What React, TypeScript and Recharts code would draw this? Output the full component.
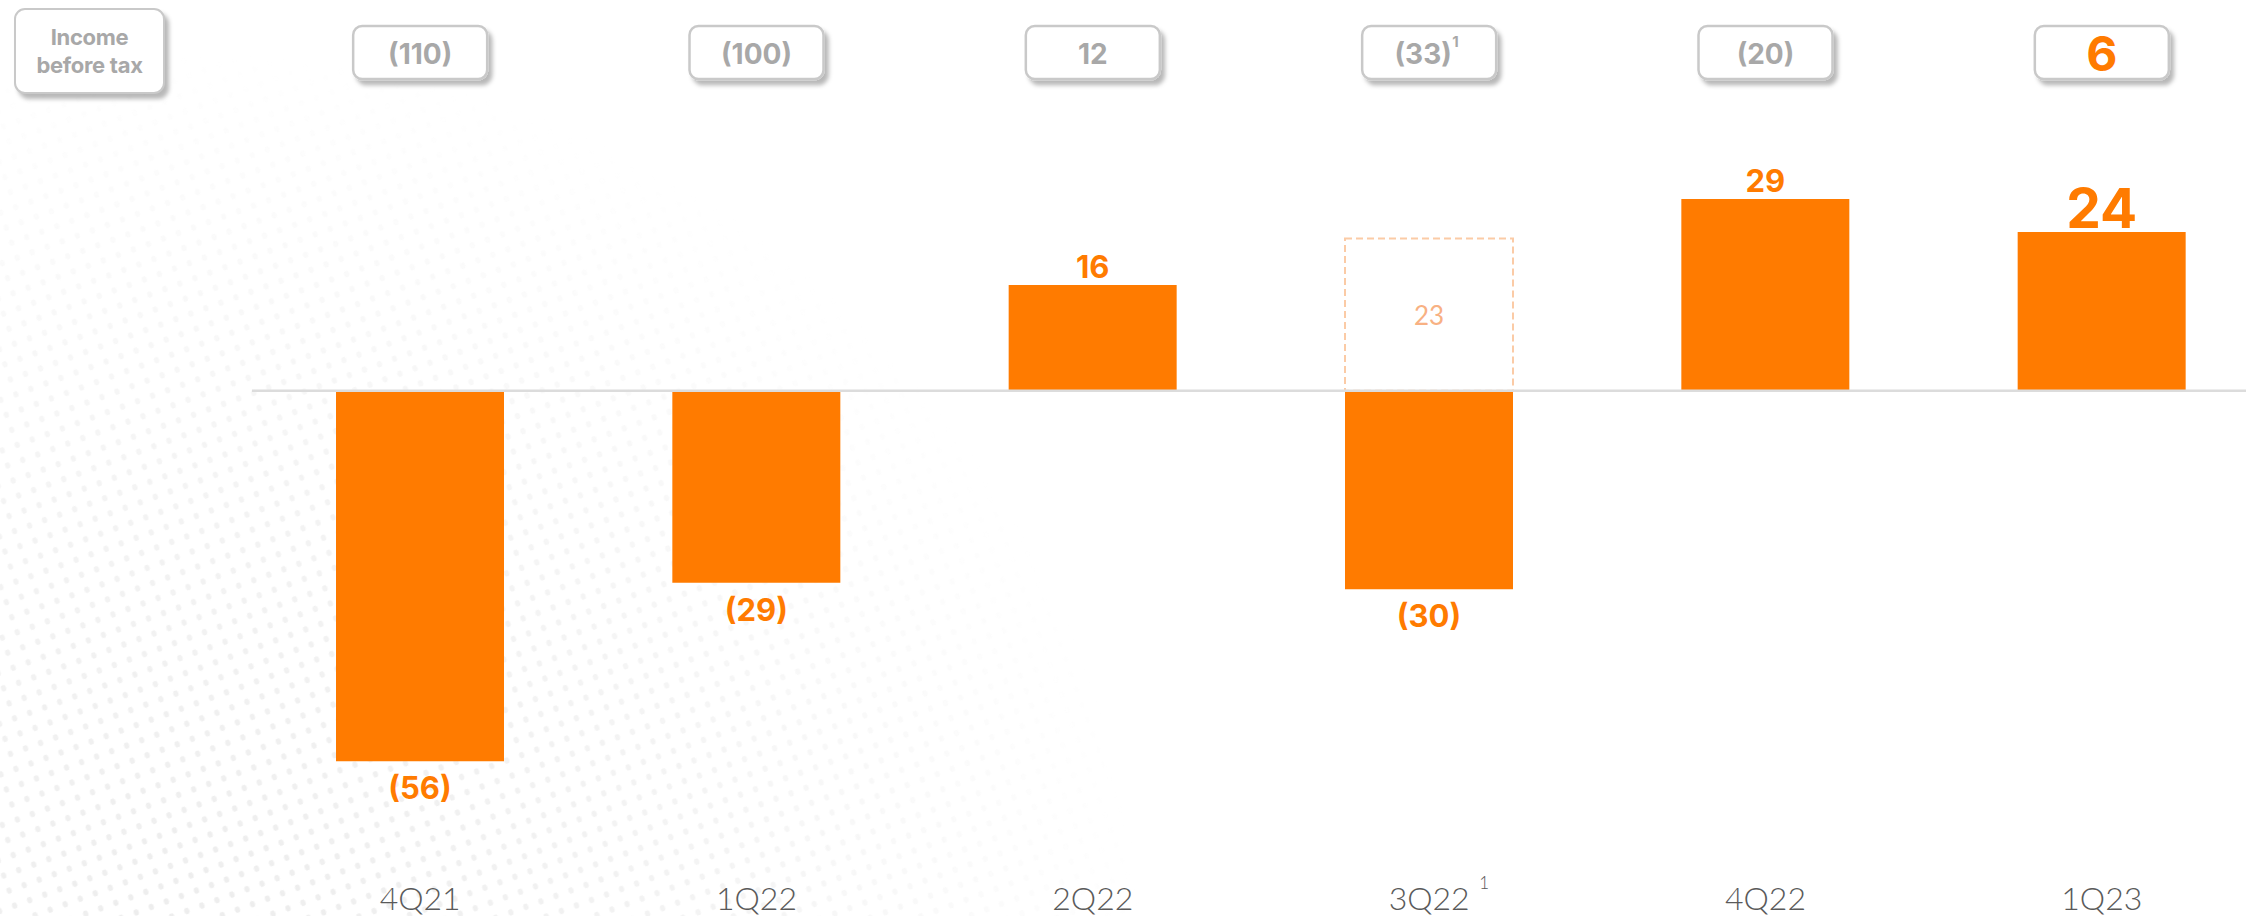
import React from 'react';
import { BarChart, Bar, XAxis, YAxis, ReferenceLine, LabelList } from 'recharts';

// Quarterly result (bars) and income before tax (boxes above each quarter)
const quarters = ['4Q21', '1Q22', '2Q22', '3Q22', '4Q22', '1Q23'];
const result = [-56, -29, 16, -30, 29, 24];
const restatedResult = [null, null, null, 23, null, null];
const incomeBeforeTax = [-110, -100, 12, -33, -20, 6];
const footnoteQuarters = ['3Q22'];
const incomeFootnoteQuarters = ['3Q22'];
const highlightQuarter = '1Q23';
const rowTitle = ['Income', 'before tax'];

const ORANGE = '#FF7B00';
const DASH_ORANGE = '#FBCBA6';
const LIGHT_ORANGE = '#F8B183';
const GREY_TEXT = '#A8A8A8';
const BOX_BORDER = '#C9C9C9';
const NUM_FONT = 'Inter, "Open Sans", sans-serif';
const AXIS_FONT = 'Lato, "Open Sans", sans-serif';

const data = quarters.map((q, i) => ({
  quarter: q,
  result: result[i],
  restated: restatedResult[i],
}));

const fmt = (v: number) => (v < 0 ? `(${Math.abs(v)})` : `${v}`);

const rawValue = (value: any) =>
  Array.isArray(value) ? Number(value[1]) - Number(value[0]) : value == null ? null : Number(value);

const ResultLabel = (props: any) => {
  const { x, y, width, height, value } = props;
  const v = rawValue(value);
  if (v == null || Number.isNaN(v)) return null;
  const top = Math.min(y, y + height);
  const bottom = Math.max(y, y + height);
  const cx = x + width / 2;
  const idx = result.indexOf(v);
  const big = quarters[idx] === highlightQuarter;
  if (v >= 0) {
    return (
      <text
        x={cx}
        y={big ? top - 4 : top - 7}
        textAnchor="middle"
        fill={ORANGE}
        fontFamily={NUM_FONT}
        fontWeight={700}
        fontSize={big ? 55 : 31}
      >
        {fmt(v)}
      </text>
    );
  }
  return (
    <text
      x={cx}
      y={bottom + 38}
      textAnchor="middle"
      fill={ORANGE}
      fontFamily={NUM_FONT}
      fontWeight={700}
      fontSize={31}
    >
      {fmt(v)}
    </text>
  );
};

const RestatedLabel = (props: any) => {
  const { x, y, width, height, value } = props;
  const v = rawValue(value);
  if (v == null || Number.isNaN(v) || v === 0) return null;
  const top = Math.min(y, y + height);
  const h = Math.abs(height);
  return (
    <text
      x={x + width / 2}
      y={top + h / 2}
      dominantBaseline="central"
      textAnchor="middle"
      fill={LIGHT_ORANGE}
      fontFamily={AXIS_FONT}
      fontWeight={400}
      fontSize={26}
    >
      {v}
    </text>
  );
};

const BottomTick = (props: any) => {
  const { x, y, payload } = props;
  const q = payload.value as string;
  const hasNote = footnoteQuarters.includes(q);
  return (
    <g>
      <text
        x={x}
        y={y + 43}
        dominantBaseline="central"
        textAnchor="middle"
        fill="#5A5A5A"
        fontFamily={AXIS_FONT}
        fontWeight={300}
        fontSize={32}
      >
        {q}
      </text>
      {hasNote && (
        <text x={x + 50} y={y + 35} fill="#5A5A5A" fontFamily={AXIS_FONT} fontWeight={300} fontSize={17}>
          1
        </text>
      )}
    </g>
  );
};

const TopTick = (props: any) => {
  const { x, y, payload } = props;
  const q = payload.value as string;
  const i = quarters.indexOf(q);
  const v = incomeBeforeTax[i];
  const hl = q === highlightQuarter;
  const note = incomeFootnoteQuarters.includes(q);
  const w = 134;
  const h = 53;
  const top = y - 67;
  return (
    <g>
      <rect
        x={x - w / 2}
        y={top}
        width={w}
        height={h}
        rx={9}
        ry={9}
        fill="#FFFFFF"
        stroke={BOX_BORDER}
        strokeWidth={2.5}
        filter="url(#boxShadow)"
      />
      <text
        x={note ? x - 6 : x}
        y={top + h / 2 + 1}
        dominantBaseline="central"
        textAnchor="middle"
        fill={hl ? ORANGE : GREY_TEXT}
        fontFamily={NUM_FONT}
        fontWeight={700}
        fontSize={hl ? 48 : 28}
      >
        {fmt(v)}
      </text>
      {note && (
        <text x={x + 23} y={top + 21} fill={GREY_TEXT} fontFamily={NUM_FONT} fontWeight={700} fontSize={15}>
          1
        </text>
      )}
    </g>
  );
};

const DotBackground = () => (
  <svg width={2246} height={916} style={{ position: 'absolute', left: 0, top: 0 }}>
    <defs>
      <pattern id="dots" width="16" height="16" patternUnits="userSpaceOnUse" patternTransform="rotate(-20)">
        <ellipse cx="8" cy="8" rx="2.6" ry="3.2" fill="#E6E6E6" />
      </pattern>
      <radialGradient id="fade" cx="200" cy="1000" r="950" gradientUnits="userSpaceOnUse">
        <stop offset="0" stopColor="#fff" stopOpacity="1" />
        <stop offset="0.55" stopColor="#fff" stopOpacity="0.6" />
        <stop offset="1" stopColor="#fff" stopOpacity="0" />
      </radialGradient>
      <mask id="fadeMask">
        <rect x="0" y="0" width="2246" height="916" fill="url(#fade)" />
      </mask>
    </defs>
    <rect x="0" y="0" width="2246" height="916" fill="url(#dots)" mask="url(#fadeMask)" opacity="0.75" />
  </svg>
);

export default function App() {
  return (
    <div
      style={{
        position: 'fixed',
        left: 0,
        top: 0,
        width: 2246,
        height: 916,
        overflow: 'hidden',
        background: '#FFFFFF',
      }}
    >
      <DotBackground />
      <div
        style={{
          position: 'absolute',
          left: 14,
          top: 8,
          width: 151,
          height: 86,
          boxSizing: 'border-box',
          border: `2.5px solid ${BOX_BORDER}`,
          borderRadius: 11,
          background: '#FFFFFF',
          boxShadow: '4px 5px 4px rgba(0,0,0,0.28)',
          display: 'flex',
          flexDirection: 'column',
          alignItems: 'center',
          justifyContent: 'center',
          color: GREY_TEXT,
          fontFamily: NUM_FONT,
          fontWeight: 700,
          fontSize: 22,
          lineHeight: '28px',
          letterSpacing: '-0.3px',
        }}
      >
        {rowTitle.map((t) => (
          <div key={t}>{t}</div>
        ))}
      </div>
      <div style={{ position: 'absolute', left: 0, top: 0 }}>
        <BarChart
          width={2290}
          height={916}
          data={data}
          stackOffset="sign"
          margin={{ top: 3, right: 20, bottom: 2, left: 252 }}
        >
          <defs>
            <filter id="boxShadow" x="-20%" y="-20%" width="150%" height="160%">
              <feDropShadow dx="4" dy="5" stdDeviation="2.2" floodColor="#000" floodOpacity="0.28" />
            </filter>
          </defs>
          <XAxis
            xAxisId="top"
            dataKey="quarter"
            orientation="top"
            height={90}
            axisLine={false}
            tickLine={false}
            tickSize={0}
            tickMargin={0}
            interval={0}
            tick={<TopTick />}
          />
          <XAxis
            dataKey="quarter"
            height={60}
            axisLine={false}
            tickLine={false}
            tickSize={0}
            tickMargin={0}
            interval={0}
            tick={<BottomTick />}
          />
          <YAxis hide domain={[-70, 45]} />
          <ReferenceLine y={0} stroke="#DCDCDC" strokeWidth={2.5} />
          <Bar dataKey="result" stackId="q" barSize={168} fill={ORANGE} isAnimationActive={false}>
            <LabelList dataKey="result" content={<ResultLabel />} />
          </Bar>
          <Bar
            dataKey="restated"
            stackId="q"
            barSize={168}
            fill="none"
            stroke={DASH_ORANGE}
            strokeWidth={2}
            strokeDasharray="7 4"
            isAnimationActive={false}
          >
            <LabelList dataKey="restated" content={<RestatedLabel />} />
          </Bar>
        </BarChart>
      </div>
    </div>
  );
}
